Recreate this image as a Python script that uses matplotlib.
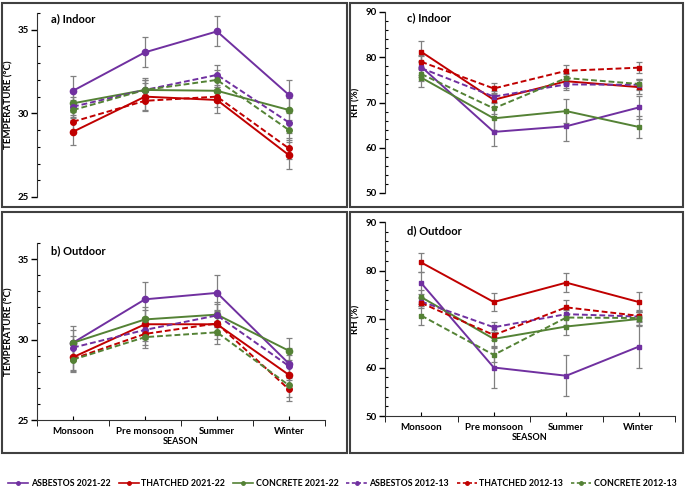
import matplotlib
matplotlib.use("Agg")
import matplotlib.pyplot as plt
from matplotlib.lines import Line2D
from matplotlib.patches import Rectangle
from matplotlib.ticker import MultipleLocator, FixedLocator

plt.rcParams['font.family'] = ['Lato', 'DejaVu Sans']
plt.rcParams['font.weight'] = 'bold'

# --- Дані ---
seasons = ["Monsoon", "Pre monsoon", "Summer", "Winter"]
series = ["ASBESTOS 2021-22", "THATCHED 2021-22", "CONCRETE 2021-22",
          "ASBESTOS 2012-13", "THATCHED 2012-13", "CONCRETE 2012-13"]

# a) температура в приміщенні
temp_in = [
    [31.35, 33.65, 34.9, 31.1],
    [28.9, 31.0, 30.8, 27.5],
    [30.6, 31.4, 31.35, 30.2],
    [30.4, 31.4, 32.3, 29.45],
    [29.5, 30.75, 31.0, 27.9],
    [30.2, 31.4, 32.0, 29.0],
]
temp_in_err = [
    [0.9, 0.9, 0.9, 0.9],
    [0.8, 0.8, 0.8, 0.8],
    [0.7, 0.7, 0.7, 0.7],
    [0.6, 0.6, 0.6, 0.6],
    [0.6, 0.6, 0.6, 0.6],
    [0.6, 0.6, 0.6, 0.6],
]

# b) температура надворі
temp_out = [
    [29.8, 32.5, 32.9, 28.5],
    [28.9, 30.95, 30.95, 27.8],
    [29.8, 31.25, 31.55, 29.3],
    [29.5, 30.6, 31.5, 28.35],
    [28.8, 30.35, 31.0, 26.9],
    [28.75, 30.15, 30.45, 27.15],
]
temp_out_err = [
    [1.05, 1.1, 1.1, 1.0],
    [0.9, 0.9, 0.9, 0.9],
    [0.8, 0.8, 0.8, 0.8],
    [0.7, 0.7, 0.7, 0.7],
    [0.7, 0.7, 0.7, 0.7],
    [0.7, 0.7, 0.7, 0.7],
]

# c) вологість в приміщенні
rh_in = [
    [77.9, 63.5, 64.75, 68.9],
    [81.2, 70.6, 74.7, 73.4],
    [75.5, 66.5, 68.1, 64.6],
    [77.6, 71.3, 74.0, 73.9],
    [79.0, 73.1, 77.0, 77.7],
    [76.3, 68.7, 75.4, 74.1],
]
rh_in_err = [
    [2.3, 3.2, 3.3, 2.6],
    [2.3, 1.5, 1.5, 1.5],
    [2.1, 2.5, 2.6, 2.5],
    [1.5, 1.2, 1.2, 1.2],
    [1.5, 1.2, 1.2, 1.2],
    [1.5, 1.2, 1.2, 1.2],
]

# d) вологість надворі
rh_out = [
    [77.4, 60.0, 58.3, 64.3],
    [81.65, 73.5, 77.5, 73.5],
    [74.5, 65.9, 68.45, 70.0],
    [73.6, 68.3, 71.0, 70.5],
    [73.3, 66.7, 72.4, 70.65],
    [70.7, 62.6, 70.3, 70.2],
]
rh_out_err = [
    [2.2, 4.3, 4.2, 4.4],
    [2.0, 1.9, 1.95, 2.0],
    [1.5, 1.5, 1.7, 1.5],
    [1.0, 1.0, 1.0, 1.0],
    [1.0, 1.0, 1.5, 1.2],
    [2.0, 1.5, 1.5, 1.5],
]

colors = ["#7030A0", "#C00000", "#548235", "#7030A0", "#C00000", "#548235"]
styles = ["-", "-", "-", "--", "--", "--"]

fig = plt.figure(figsize=(6.85, 4.91), dpi=100)

# рамки навколо панелей (пікселі -> частки фігури)
W, H = 685, 491
for (x0, y0, x1, y1) in [(2, 3, 347, 207), (2, 212, 347, 453),
                         (350, 3, 683, 207), (350, 212, 683, 453)]:
    fig.patches.append(Rectangle((x0 / W, 1 - y1 / H), (x1 - x0) / W, (y1 - y0) / H,
                                 transform=fig.transFigure, fill=False,
                                 edgecolor="#404040", lw=1.5))

ax_a = fig.add_axes([37 / W, 1 - 197 / H, 288 / W, 184 / H])
ax_b = fig.add_axes([37 / W, 1 - 420 / H, 288 / W, 177 / H])
ax_c = fig.add_axes([385 / W, 1 - 193 / H, 290 / W, 181 / H])
ax_d = fig.add_axes([385 / W, 1 - 416 / H, 290 / W, 194 / H])

panels = [
    (ax_a, temp_in, temp_in_err, "a) Indoor", "TEMPERATURE (°C)", (25, 36), 5, 1, False),
    (ax_b, temp_out, temp_out_err, "b) Outdoor", "TEMPERATURE (°C)", (25, 36), 5, 1, True),
    (ax_c, rh_in, rh_in_err, "c) Indoor", "RH (%)", (50, 90), 10, 2, False),
    (ax_d, rh_out, rh_out_err, "d) Outdoor", "RH (%)", (50, 90), 10, 2, True),
]

x = list(range(len(seasons)))
for ax, vals, errs, title, ylab, ylim, major, minor, show_x in panels:
    is_temp = ylim[0] == 25
    for i in range(len(series)):
        ax.errorbar(x, vals[i], yerr=errs[i], fmt="none", ecolor="#808080",
                    elinewidth=0.9, capsize=2, capthick=0.9, zorder=1)
    for i in range(len(series)):
        if is_temp:
            mk, ms = "o", (4.5 if styles[i] == "-" else 4)
        else:
            mk, ms = "s", 3
        ax.plot(x, vals[i], linestyle=styles[i], color=colors[i], lw=1.4,
                marker=mk, markersize=ms, zorder=3,
                dashes=(3, 1.5) if styles[i] == "--" else (None, None))
    ax.set_xlim(-0.5, 3.5)
    ax.set_ylim(*ylim)
    ax.yaxis.set_major_locator(MultipleLocator(major))
    ax.yaxis.set_minor_locator(MultipleLocator(minor))
    ax.tick_params(axis="y", which="major", direction="out", length=4,
                   width=1, labelsize=7, pad=2)
    ax.tick_params(axis="y", which="minor", direction="in", length=2, width=0.8)
    ax.spines["top"].set_visible(False)
    ax.spines["right"].set_visible(False)
    ax.spines["left"].set_color("#333333")
    ax.set_ylabel(ylab, fontsize=7, fontweight="bold")
    ax.yaxis.set_label_coords(-0.083, 0.5)
    ax.text(0.05 if is_temp else 0.075, 0.985 if show_x else 1.0, title,
            transform=ax.transAxes, fontsize=8, fontweight="bold", va="top")
    if show_x:
        ax.set_xticks(x)
        ax.set_xticklabels(seasons, fontsize=7, fontweight="bold")
        ax.xaxis.set_minor_locator(FixedLocator([-0.5, 0.5, 1.5, 2.5, 3.5]))
        ax.tick_params(axis="x", which="major", direction="in", length=3, pad=5)
        ax.tick_params(axis="x", which="minor", direction="out", length=4)
        ax.spines["bottom"].set_color("#333333")
        ax.set_xlabel("SEASON", fontsize=6.5, fontweight="bold", labelpad=1)
    else:
        ax.spines["bottom"].set_visible(False)
        ax.set_xticks([])

# Легенда
handles = [Line2D([0], [0], color=colors[i], linestyle=styles[i], lw=1.2,
                  marker="o", markersize=2.5,
                  dashes=(2, 1.5) if styles[i] == "--" else (None, None))
           for i in range(len(series))]
fig.legend(handles, series, loc="center", bbox_to_anchor=(0.5, 1 - 484 / H),
           ncol=6, fontsize=6.3, frameon=False, handlelength=2.3,
           handletextpad=0.3, columnspacing=0.9)

fig.savefig("out.png", dpi=100)
